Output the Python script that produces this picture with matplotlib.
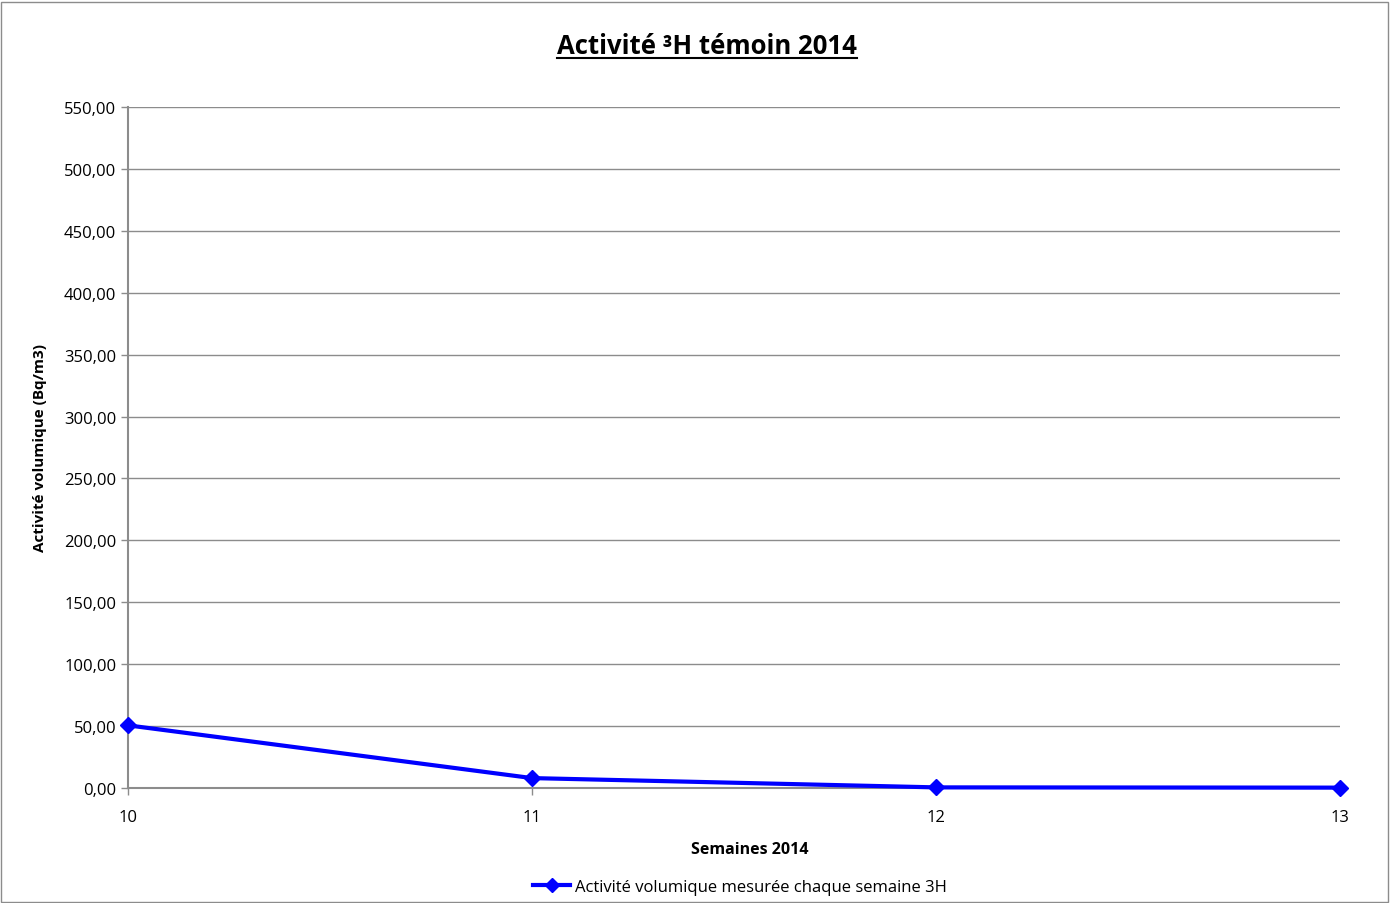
import numpy as np
import matplotlib.pyplot as plt
from matplotlib.patches import Rectangle
from matplotlib.ticker import FuncFormatter, MultipleLocator
from matplotlib.lines import Line2D

plt.rcParams['font.family'] = ['Open Sans', 'DejaVu Sans']

weeks = [10, 11, 12, 13]
activity = [50.6, 8.0, 0.5, 0.3]
series_label = "Activité volumique mesurée chaque semaine 3H"
title = "Activité ³H témoin 2014"
xlab = "Semaines 2014"
ylab = "Activité volumique (Bq/m3)"

fig = plt.figure(figsize=(13.92, 9.04), dpi=100)
ax = fig.add_axes([128/1392, 1-789/904, (1340-128)/1392, (789-108)/904])

ax.plot(weeks, activity, color='#0000ff', lw=3, marker='D', markersize=8,
        label=series_label, zorder=3, clip_on=False)

ax.set_xlim(10, 13)
ax.set_ylim(0, 550)
ax.set_xticks(weeks)
ax.yaxis.set_major_locator(MultipleLocator(50))
ax.yaxis.set_major_formatter(FuncFormatter(lambda v, p: f"{v:.2f}".replace('.', ',')))
ax.grid(axis='y', color='#8c8c8c', lw=1)
ax.set_axisbelow(True)
for s in ['top', 'right']:
    ax.spines[s].set_visible(False)
for s in ['left', 'bottom']:
    ax.spines[s].set_color('#8c8c8c')
    ax.spines[s].set_linewidth(1.5)
ax.tick_params(axis='both', colors='#8c8c8c', labelcolor='black', labelsize=12,
               length=5, width=1)
ax.tick_params(axis='x', pad=10)

ax.set_xlabel(xlab, fontsize=11.5, fontweight='bold', labelpad=14)
ax.xaxis.set_label_coords((750-128)/(1340-128), -0.078)
ax.set_ylabel(ylab, fontsize=11, fontweight='bold', labelpad=12)

t = fig.text(707/1392, 1-47/904, title, ha='center', va='center', fontsize=18.5, fontweight='bold')

fig.legend(handles=[Line2D([0], [0], color='#0000ff', lw=3, marker='D', markersize=7)],
           labels=[series_label], loc='center', bbox_to_anchor=(740/1392, 1-888/904),
           frameon=False, fontsize=12, handlelength=2.2, handletextpad=0.3)

# underline the title
fig.canvas.draw()
bb = t.get_window_extent().transformed(fig.transFigure.inverted())
fig.add_artist(Line2D([bb.x0, bb.x1], [bb.y0 + 0.002, bb.y0 + 0.002], color='black', lw=1.5,
                      transform=fig.transFigure))

fig.add_artist(Rectangle((0.001, 0.001), 0.996, 0.996, transform=fig.transFigure,
                         fill=False, edgecolor='#8c8c8c', lw=1))

fig.savefig("out.png", dpi=100)
